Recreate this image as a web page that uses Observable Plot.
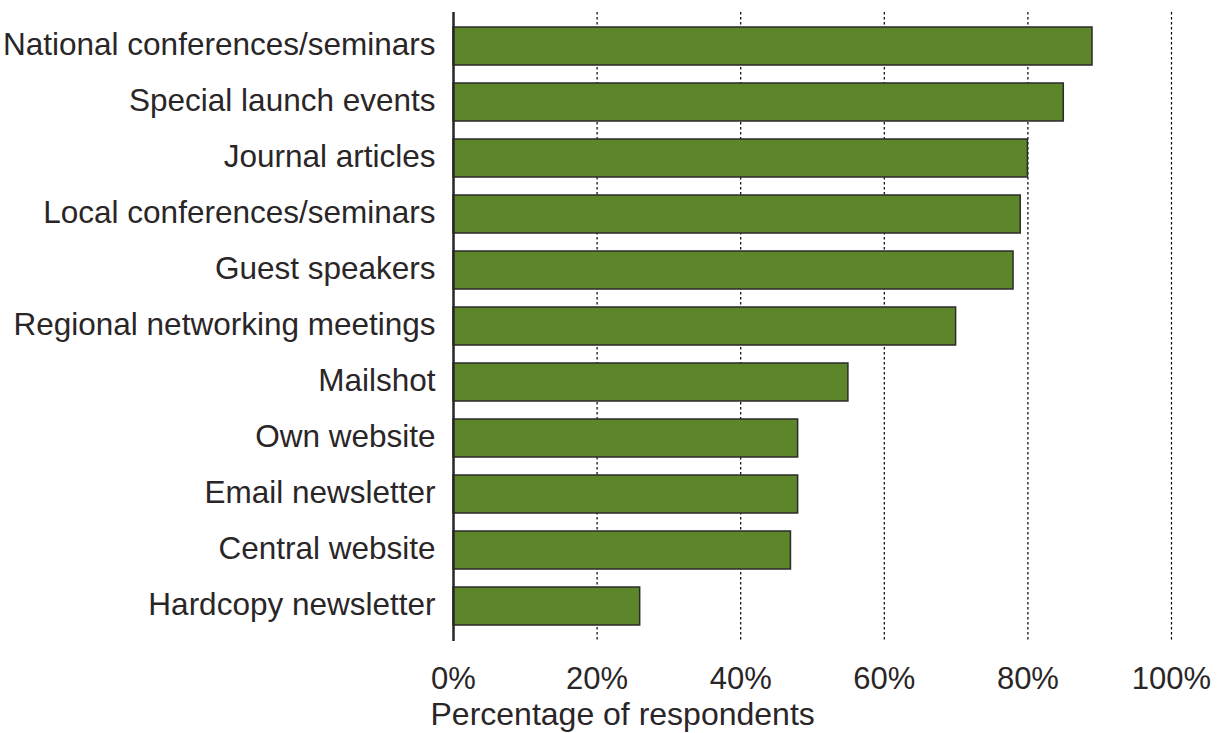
<!DOCTYPE html>
<html>
<head>
<meta charset="utf-8">
<script src="https://cdn.jsdelivr.net/npm/d3@7"></script>
<script src="https://cdn.jsdelivr.net/npm/@observablehq/plot@0.6"></script>
<style>
  html, body { margin: 0; padding: 0; background: #fff; overflow: hidden; }
  #chart svg { display: block; }
</style>
</head>
<body>
<div id="chart"></div>
<script>
const categories = [
  "National conferences/seminars",
  "Special launch events",
  "Journal articles",
  "Local conferences/seminars",
  "Guest speakers",
  "Regional networking meetings",
  "Mailshot",
  "Own website",
  "Email newsletter",
  "Central website",
  "Hardcopy newsletter"
];
const values = [89, 85, 80, 79, 78, 70, 55, 48, 48, 47, 26];
const xTicks = [0, 20, 40, 60, 80, 100];
const xLabel = "Percentage of respondents";

const data = categories.map((c, i) => ({category: c, value: values[i]}));

const font = "'Liberation Sans', Arial, Helvetica, sans-serif";
const ink = "#2a2627";

const chart = Plot.plot({
  width: 1222,
  height: 733,
  marginTop: 12,
  marginBottom: 92,
  marginLeft: 453,
  marginRight: 51,
  style: {fontFamily: font, fontSize: "31px", color: ink, background: "#fff", overflow: "visible"},
  x: {domain: [0, 100], ticks: xTicks},
  y: {domain: categories, paddingInner: 0.32, paddingOuter: 0.27},
  marks: [
    Plot.gridX(xTicks.slice(1), {stroke: "#000", strokeOpacity: 1, strokeWidth: 1.2, strokeDasharray: "2.5,2.5"}),
    Plot.barX(data, {x: "value", y: "category", fill: "#5d852a", stroke: "#2b2b2b", strokeWidth: 1.5}),
    Plot.ruleX([0], {stroke: ink, strokeWidth: 2.5}),
    Plot.axisY({tickSize: 0, tickPadding: 18, dy: -2, label: null, fontSize: 31.5, fill: ink}),
    Plot.axisX(xTicks, {tickSize: 0, tickPadding: 25, label: null, tickFormat: d => d + "%", fontSize: 31, fill: ink}),
    Plot.text([xLabel], {frameAnchor: "bottom-left", dx: -23, dy: 83, textAnchor: "start", fontSize: 32, fill: ink})
  ]
});

document.getElementById("chart").appendChild(chart);
</script>
</body>
</html>
